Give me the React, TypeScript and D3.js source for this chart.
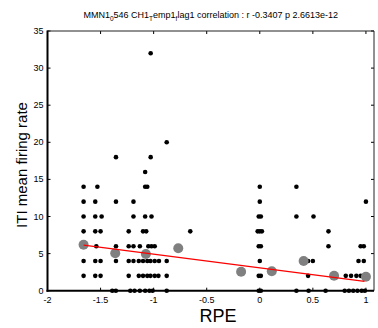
import React from "react";
import * as d3 from "d3";

// firing-rate levels (y) and the RPE values (x) of the trials at each level
const rateLevels = [0, 2, 4, 6, 8, 10, 12, 14, 16, 18, 20, 32];
const rpeAtRate: number[][] = [
  [-1.39, -1.356, -1.22, -1.18, -1.13, -1.08, -1.04, -1.01, -0.877, -0.01, 0.01, 0.345, 0.46, 0.62, 0.8, 0.84, 0.88, 0.92, 0.96, 0.99],
  [-1.66, -1.55, -1.5, -1.235, -1.14, -1.1, -1.06, -1.03, -0.99, -0.955, -0.877, -0.01, 0.01, 0.455, 0.81, 0.86, 0.91, 0.95, 0.98],
  [-1.66, -1.55, -1.5, -1.355, -1.235, -1.19, -1.14, -1.1, -1.06, -1.03, -0.99, -0.95, -0.877, 0, 0.455, 0.5, 0.93, 0.98],
  [-1.66, -1.54, -1.355, -1.235, -1.19, -1.13, -1.05, -1.02, -0.99, -0.01, 0.01, 0.647, 0.95, 0.98],
  [-1.66, -1.55, -1.5, -1.235, -1.1, -1.07, -0.655, -0.02, 0, 0.02, 0.647],
  [-1.66, -1.55, -1.49, -1.19, -1.08, -1.02, -0.01, 0.01, 0.345, 0.506],
  [-1.66, -1.55, -1.355, -1.19, 0, 1.0],
  [-1.66, -1.53, -1.08, -1.06, 0, 0.345],
  [-1.08],
  [-1.355, -1.028],
  [-0.877],
  [-1.028],
];

// binned means (grey circles)
const binRpe = [-1.66, -1.362, -1.073, -0.768, -0.176, 0.113, 0.413, 0.7, 1.0];
const binRate = [6.2, 5.04, 4.95, 5.71, 2.56, 2.61, 4.0, 2.02, 1.89];

// linear fit (red line)
const fitIntercept = 3.07;
const fitSlope = -1.85;
const fitRange = [-1.66, 0.987];

const xTicks = [-2, -1.5, -1, -0.5, 0, 0.5, 1];
const yTicks = [0, 5, 10, 15, 20, 25, 30, 35];

export default function App() {
  const W = 378, H = 328;
  const left = 47.5, right = 374, top = 31, bottom = 290.7;
  const x = d3.scaleLinear().domain([-2, 1.076]).range([left, right]);
  const y = d3.scaleLinear().domain([0, 35]).range([bottom, top]);
  const font = "'Liberation Sans', Arial, Helvetica, sans-serif";
  const tl = 3;

  const points: [number, number][] = [];
  rateLevels.forEach((r, i) => rpeAtRate[i].forEach((v) => points.push([v, r])));

  const line = d3.line<number>().x((v) => x(v)).y((v) => y(fitIntercept + fitSlope * v));

  return (
    <svg width={W} height={H} style={{ position: "absolute", left: 0, top: 0, background: "#fff" }} fontFamily={font}>
      <rect x={0} y={0} width={W} height={H} fill="#fff" />
      {/* ticks */}
      {xTicks.map((t) => (
        <g key={"xt" + t}>
          <line x1={x(t)} x2={x(t)} y1={bottom} y2={bottom - tl} stroke="#000" strokeWidth={1} />
          <line x1={x(t)} x2={x(t)} y1={top} y2={top + tl} stroke="#000" strokeWidth={1} />
          <text x={x(t)} y={bottom + 12} fontSize={9} textAnchor="middle" fill="#000">{t}</text>
        </g>
      ))}
      {yTicks.map((t) => (
        <g key={"yt" + t}>
          <line x1={left} x2={left + tl} y1={y(t)} y2={y(t)} stroke="#000" strokeWidth={1} />
          <line x1={right} x2={right - tl} y1={y(t)} y2={y(t)} stroke="#000" strokeWidth={1} />
          <text x={left - 4} y={y(t) + 3} fontSize={9} textAnchor="end" fill="#000">{t}</text>
        </g>
      ))}
      {/* data */}
      {points.map(([v, r], i) => (
        <circle key={"p" + i} cx={x(v)} cy={y(r)} r={2.3} fill="#000" />
      ))}
      {binRpe.map((v, i) => (
        <circle key={"b" + i} cx={x(v)} cy={y(binRate[i])} r={5} fill="#808080" />
      ))}
      <path d={line(fitRange) || ""} stroke="#ff0000" strokeWidth={1.3} fill="none" />
      {/* box */}
      <line x1={left} x2={right} y1={top} y2={top} stroke="#222" strokeWidth={1} />
      <line x1={right} x2={right} y1={top} y2={bottom} stroke="#222" strokeWidth={1} />
      <line x1={left} x2={left} y1={top - 0.5} y2={bottom + 1} stroke="#000" strokeWidth={2} />
      <line x1={left - 1} x2={right} y1={bottom} y2={bottom} stroke="#000" strokeWidth={2} />
      {/* title */}
      <text x={(left + right) / 2} y={18} fontSize={9} textAnchor="middle" fill="#000">
        MMN1<tspan fontSize={6.5} dy={3}>0</tspan>
        <tspan dy={-3}>546 CH1</tspan>
        <tspan fontSize={6.5} dy={3}>T</tspan>
        <tspan dy={-3}>emp1</tspan>
        <tspan fontSize={6.5} dy={3}>f</tspan>
        <tspan dy={-3}>lag1 correlation : r -0.3407 p 2.6613e-12</tspan>
      </text>
      <text x={218} y={322} fontSize={18} textAnchor="middle" fill="#000">RPE</text>
      <text transform={`translate(27,165) rotate(-90)`} fontSize={15} textAnchor="middle" fill="#000">
        ITI mean firing rate
      </text>
    </svg>
  );
}
